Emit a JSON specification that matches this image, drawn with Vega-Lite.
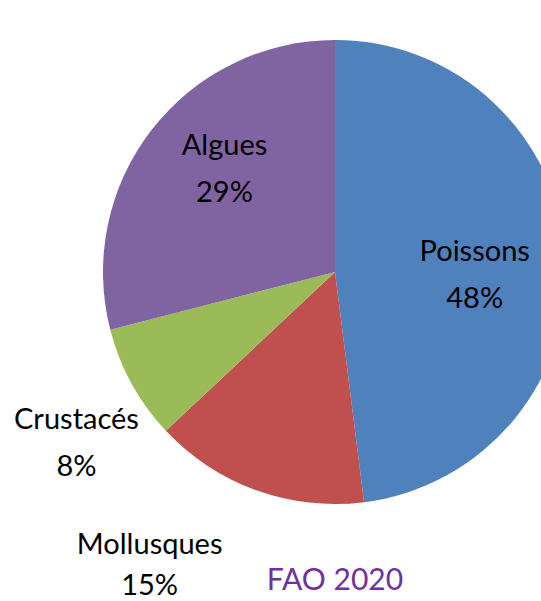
{
  "$schema": "https://vega.github.io/schema/vega-lite/v6.json",
  "width": 412,
  "height": 544,
  "autosize": {"type": "none"},
  "padding": {"left": 129, "top": 0, "right": 0, "bottom": 57},
  "background": "white",
  "config": {"view": {"stroke": null}},
  "title": {
    "text": "FAO 2020",
    "orient": "bottom",
    "anchor": "middle",
    "offset": -35,
    "color": "#7030A0",
    "font": "Lato",
    "fontSize": 30,
    "fontWeight": "normal"
  },
  "data": {
    "values": [
      {"categorie": "Poissons", "valeur": 48, "ordre": 1},
      {"categorie": "Mollusques", "valeur": 15, "ordre": 2},
      {"categorie": "Crustacés", "valeur": 8, "ordre": 3},
      {"categorie": "Algues", "valeur": 29, "ordre": 4}
    ]
  },
  "transform": [
    {"stack": "valeur", "groupby": [], "sort": [{"field": "ordre", "order": "ascending"}], "as": ["debut", "fin"]},
    {"calculate": "(datum.debut + datum.fin) / 2", "as": "milieu"},
    {"calculate": "datum.categorie + '\\n' + datum.valeur + '%'", "as": "etiquette"}
  ],
  "layer": [
    {
      "mark": {"type": "arc", "outerRadius": 232, "stroke": null},
      "encoding": {
        "theta": {"field": "debut", "type": "quantitative", "scale": {"domain": [0, 100]}},
        "theta2": {"field": "fin"},
        "color": {
          "field": "categorie",
          "type": "nominal",
          "scale": {
            "domain": ["Poissons", "Mollusques", "Crustacés", "Algues"],
            "range": ["#4F81BD", "#C0504D", "#9BBB59", "#8064A2"]
          },
          "legend": null
        }
      }
    },
    {
      "transform": [{"filter": "datum.categorie == 'Poissons'"}],
      "mark": {"type": "text", "font": "Lato", "fontSize": 29, "lineBreak": "\n", "lineHeight": 47, "align": "center", "baseline": "middle", "color": "black", "dy": -11},
      "encoding": {
        "theta": {"field": "milieu", "type": "quantitative", "scale": {"domain": [0, 100]}},
        "radius": {"value": 140},
        "text": {"field": "etiquette"}
      }
    },
    {
      "transform": [{"filter": "datum.categorie == 'Algues'"}],
      "mark": {"type": "text", "font": "Lato", "fontSize": 29, "lineBreak": "\n", "lineHeight": 47, "align": "center", "baseline": "middle", "color": "black", "dx": 8, "dy": -34},
      "encoding": {
        "theta": {"field": "milieu", "type": "quantitative", "scale": {"domain": [0, 100]}},
        "radius": {"value": 150},
        "text": {"field": "etiquette"}
      }
    },
    {
      "transform": [{"filter": "datum.categorie == 'Crustacés'"}],
      "mark": {"type": "text", "font": "Lato", "fontSize": 29, "lineBreak": "\n", "lineHeight": 47, "align": "center", "baseline": "middle", "color": "black", "dy": 6},
      "encoding": {
        "theta": {"field": "milieu", "type": "quantitative", "scale": {"domain": [0, 100]}},
        "radius": {"value": 295},
        "text": {"field": "etiquette"}
      }
    },
    {
      "transform": [{"filter": "datum.categorie == 'Mollusques'"}],
      "mark": {"type": "text", "font": "Lato", "fontSize": 29, "lineBreak": "\n", "lineHeight": 41, "align": "center", "baseline": "middle", "color": "black", "dx": -80, "dy": -20},
      "encoding": {
        "theta": {"field": "milieu", "type": "quantitative", "scale": {"domain": [0, 100]}},
        "radius": {"value": 311},
        "text": {"field": "etiquette"}
      }
    }
  ]
}
